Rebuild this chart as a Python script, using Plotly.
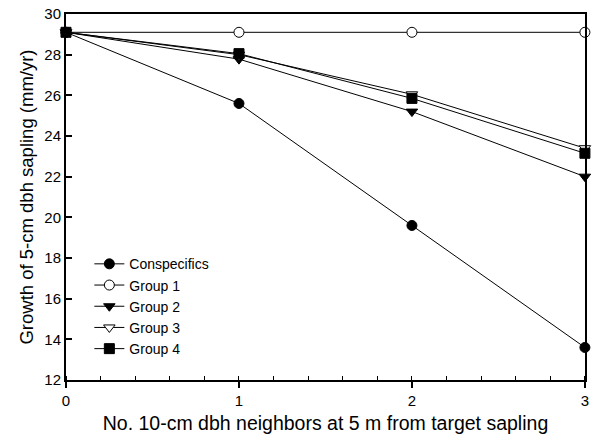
import plotly.graph_objects as go

x_vals = [0, 1, 2, 3]
conspecifics = [29.1, 25.6, 19.6, 13.6]
group1 = [29.1, 29.1, 29.1, 29.1]
group2 = [29.1, 27.78, 25.2, 22.0]
group3 = [29.1, 28.0, 26.05, 23.4]
group4 = [29.1, 28.05, 25.85, 23.15]

series = [
    ("Conspecifics", conspecifics, "circle", "black"),
    ("Group 1", group1, "circle", "white"),
    ("Group 2", group2, "triangle-down", "black"),
    ("Group 3", group3, "triangle-down", "white"),
    ("Group 4", group4, "square", "black"),
]

fig = go.Figure()
for name, ys, sym, fill in series:
    fig.add_trace(go.Scatter(
        x=x_vals, y=ys, name=name, mode="lines+markers",
        line=dict(color="black", width=1),
        marker=dict(symbol=sym, size=10, color=fill,
                    line=dict(color="black", width=1)),
        cliponaxis=False,
    ))

font = "Liberation Sans, Arial, sans-serif"
fig.update_layout(
    width=594, height=438,
    margin=dict(l=66, r=5, t=13, b=58),
    plot_bgcolor="white", paper_bgcolor="white",
    font=dict(family=font, color="black", size=15),
    showlegend=True,
    legend=dict(x=0.045, y=0.36, xanchor="left", yanchor="top",
                bgcolor="rgba(0,0,0,0)", font=dict(size=14),
                tracegroupgap=0, itemwidth=30),
    xaxis=dict(
        range=[0, 3.0005], tickvals=[0, 1, 2, 3], ticks="outside", ticklen=6,
        tickwidth=1.5, tickcolor="black",
        showline=True, linecolor="black", linewidth=2, mirror=True,
        showgrid=False, zeroline=False,
        minor=dict(dtick=0.2, ticks="inside", ticklen=4, tickcolor="black", tickwidth=1, showgrid=False),
        title=dict(text="No. 10-cm dbh neighbors at 5 m from target sapling",
                   font=dict(size=19.5), standoff=8),
        tickfont=dict(size=15),
        ticklabeloverflow="allow",
    ),
    yaxis=dict(
        range=[12, 30], tickvals=list(range(12, 31, 2)), ticks="inside", ticklen=6,
        tickwidth=1.5, tickcolor="black",
        showline=True, linecolor="black", linewidth=2, mirror=True,
        showgrid=False, zeroline=False,
        title=dict(text="Growth of 5-cm dbh sapling (mm/yr)", font=dict(size=18.5), standoff=6),
        tickfont=dict(size=15),
        ticklabeloverflow="allow",
    ),
)

fig.write_html("out.html", config={"displayModeBar": False},
               post_script="document.body.style.margin='0';document.body.style.overflow='hidden';")
